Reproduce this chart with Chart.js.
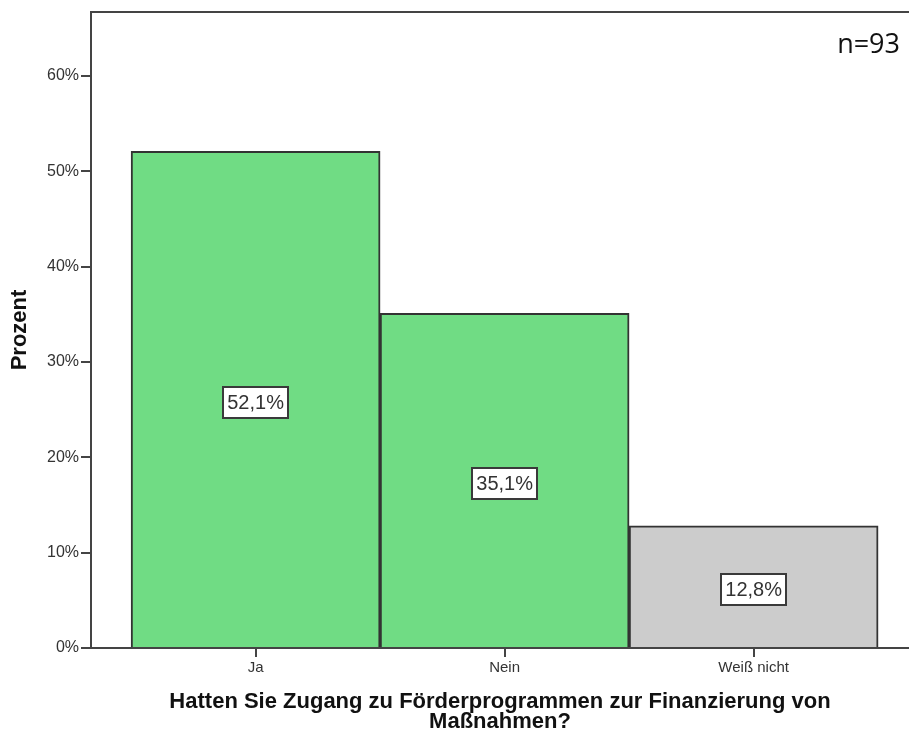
<!DOCTYPE html>
<html>
<head>
<meta charset="utf-8">
<script src="https://cdn.jsdelivr.net/npm/chart.js@4"></script>
<style>
    html, body { margin: 0; padding: 0; background: #fff; }
    #wrap { position: relative; width: 909px; height: 737px; }
</style>
</head>
<body>
<div id="wrap"><canvas id="chart"></canvas></div>
<script>
// chart data
const categories = ['Ja', 'Nein', 'Weiß nicht'];
const percentValues = [52.1, 35.1, 12.8];
const barColours = ['rgb(112, 220, 132)', 'rgb(112, 220, 132)', 'rgb(204, 204, 204)'];
const yTickValues = [0, 10, 20, 30, 40, 50, 60];
const sampleNote = 'n=93';
const xTitle = ['Hatten Sie Zugang zu Förderprogrammen zur Finanzierung von', 'Maßnahmen?'];
const yTitle = 'Prozent';

const axisColour = '#444';
const textColour = '#333';

function formatPercent(v) {
    return v.toFixed(1).replace('.', ',') + '%';
}

// top frame line + sample size note
const framePlugin = {
    id: 'frame',
    afterDraw(chart) {
        const {ctx, chartArea} = chart;
        ctx.save();
        ctx.strokeStyle = axisColour;
        ctx.lineWidth = 2;
        ctx.beginPath();
        ctx.moveTo(chartArea.left, chartArea.top);
        ctx.lineTo(chartArea.right, chartArea.top);
        ctx.stroke();

        ctx.fillStyle = '#111';
        ctx.font = '27px "Open Sans", sans-serif';
        ctx.textAlign = 'right';
        ctx.textBaseline = 'alphabetic';
        ctx.fillText(sampleNote, 900, 53);
        ctx.restore();
    }
};

// boxed value labels in the middle of each bar
const valueLabels = {
    id: 'valueLabels',
    afterDatasetsDraw(chart) {
        const {ctx} = chart;
        const meta = chart.getDatasetMeta(0);
        ctx.save();
        ctx.font = '20px "Liberation Sans", Arial, sans-serif';
        ctx.textAlign = 'center';
        ctx.textBaseline = 'middle';
        meta.data.forEach((bar, i) => {
            const text = formatPercent(percentValues[i]);
            const w = ctx.measureText(text).width + 8;
            const h = 31;
            const cx = bar.x;
            const cy = (bar.y + bar.base) / 2 + 3;
            ctx.fillStyle = '#fff';
            ctx.strokeStyle = '#3a3a3a';
            ctx.lineWidth = 2;
            ctx.beginPath();
            ctx.rect(Math.round(cx - w / 2), Math.round(cy - h / 2), Math.round(w), h);
            ctx.fill();
            ctx.stroke();
            ctx.fillStyle = textColour;
            ctx.fillText(text, cx, cy + 1);
        });
        ctx.restore();
    }
};

new Chart(document.getElementById('chart'), {
    type: 'bar',
    data: {
        datasets: [{
            data: percentValues.map((v, i) => ({x: i, y: v})),
            backgroundColor: barColours,
            borderColor: '#333',
            borderWidth: 2,
            barPercentage: 1,
            categoryPercentage: 1
        }]
    },
    options: {
        responsive: true,
        maintainAspectRatio: false,
        animation: false,
        layout: {
            padding: {top: 12, right: 0, bottom: 0, left: 0}
        },
        plugins: {
            legend: {display: false},
            tooltip: {enabled: false}
        },
        scales: {
            x: {
                type: 'linear',
                offset: false,
                min: -0.661,
                max: 2.624,
                afterBuildTicks(scale) {
                    scale.ticks = categories.map((c, i) => ({value: i}));
                },
                afterFit(scale) {
                    scale.height = 89;
                },
                ticks: {
                    autoSkip: false,
                    maxRotation: 0,
                    padding: 2,
                    color: textColour,
                    font: {family: '"Liberation Sans", Arial, sans-serif', size: 15},
                    callback: (v) => categories[v]
                },
                grid: {
                    offset: false,
                    drawOnChartArea: false,
                    drawTicks: true,
                    tickLength: 9,
                    color: axisColour,
                    lineWidth: 2
                },
                border: {display: true, color: axisColour, width: 2},
                title: {
                    display: true,
                    text: xTitle,
                    color: '#111',
                    padding: {top: 0, bottom: 5},
                    font: {family: '"Liberation Sans", Arial, sans-serif', size: 22, weight: 'bold', lineHeight: 0.9}
                }
            },
            y: {
                min: 0,
                max: 66.7,
                afterBuildTicks(scale) {
                    scale.ticks = yTickValues.map(v => ({value: v}));
                },
                afterFit(scale) {
                    scale.width = 91;
                },
                ticks: {
                    padding: 2,
                    color: textColour,
                    font: {family: '"Liberation Sans", Arial, sans-serif', size: 16},
                    callback: (v) => v + '%'
                },
                grid: {
                    drawOnChartArea: false,
                    drawTicks: true,
                    tickLength: 10,
                    color: axisColour,
                    lineWidth: 2
                },
                border: {display: true, color: axisColour, width: 2},
                title: {
                    display: true,
                    text: yTitle,
                    color: '#111',
                    padding: {top: 7, bottom: 0},
                    font: {family: '"Liberation Sans", Arial, sans-serif', size: 22, weight: 'bold'}
                }
            }
        }
    },
    plugins: [framePlugin, valueLabels]
});
</script>
</body>
</html>
